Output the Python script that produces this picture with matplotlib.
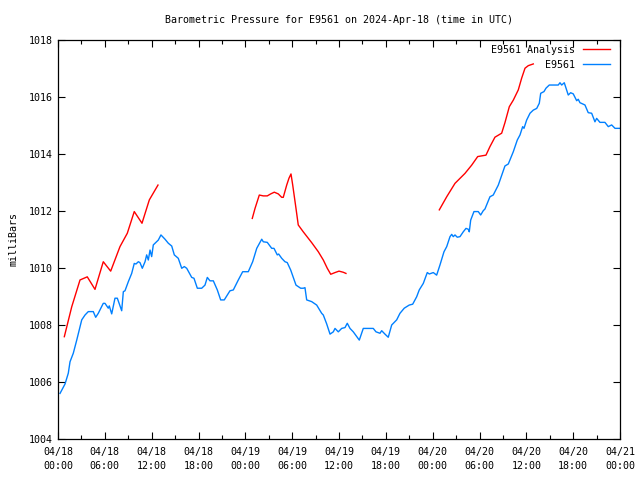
import numpy as np
import matplotlib
matplotlib.use('Agg')
import matplotlib.pyplot as plt
from matplotlib.ticker import MultipleLocator, FixedLocator

# Data: hours since 2024-04-18 00:00 UTC, pressure in mb
#################################################################################################################

obs_hours = [0.26, 0.90, 1.32, 1.54, 1.96, 2.40, 3.04, 3.46, 3.88, 4.52, 4.83, 5.16, 5.80, 6.02, 6.44, 6.57,
             6.88, 7.30, 7.60, 8.16, 8.37, 8.58, 9.01, 9.44, 9.77, 9.99, 10.29, 10.50, 10.80, 11.15, 11.36,
             11.57, 11.79, 12.00, 12.21, 12.43, 12.85, 13.19, 13.71, 14.13, 14.57, 14.90, 15.41, 15.85, 16.18,
             16.49, 17.13, 17.42, 17.85, 18.41, 18.83, 19.13, 19.47, 19.90, 20.41, 20.84, 21.30, 22.03, 22.46,
             23.10, 23.66, 24.38, 24.94, 25.46, 26.10, 26.30, 26.81, 27.38, 27.67, 28.09, 28.27, 28.66, 29.08,
             29.37, 29.81, 30.49, 31.09, 31.42, 31.64, 31.86, 32.50, 33.14, 33.78, 33.99, 34.42, 34.85, 35.27,
             35.49, 35.91, 36.34, 36.77, 37.06, 37.41, 37.83, 38.60, 39.11, 40.39, 40.74, 41.25, 41.47, 41.89,
             42.31, 42.75, 43.39, 43.81, 44.36, 45.00, 45.44, 45.95, 46.28, 46.80, 47.31, 47.57, 48.08, 48.51,
             48.94, 49.45, 49.80, 50.22, 50.44, 50.64, 50.86, 51.15, 51.50, 51.92, 52.27, 52.56, 52.69, 52.87,
             53.29, 53.84, 54.15, 54.48, 54.70, 55.34, 55.76, 56.41, 57.26, 57.69, 58.33, 58.84, 59.19, 59.53,
             59.70, 60.04, 60.47, 60.89, 61.33, 61.66, 61.84, 62.26, 62.52, 62.94, 64.09, 64.31, 64.53, 64.86,
             65.08, 65.37, 65.68, 66.01, 66.45, 66.65, 66.87, 67.51, 67.93, 68.37, 68.79, 69.01, 69.43, 70.07,
             70.50, 70.93, 71.36, 72.00]
obs_mb = [1005.60, 1005.93, 1006.31, 1006.71, 1007.01, 1007.47, 1008.18, 1008.35, 1008.47, 1008.47, 1008.27,
          1008.41, 1008.76, 1008.76, 1008.59, 1008.67, 1008.39, 1008.94, 1008.94, 1008.50, 1009.17, 1009.20,
          1009.52, 1009.81, 1010.16, 1010.14, 1010.22, 1010.19, 1009.99, 1010.22, 1010.46, 1010.28, 1010.63,
          1010.40, 1010.81, 1010.87, 1010.98, 1011.16, 1011.01, 1010.87, 1010.77, 1010.46, 1010.34, 1009.99,
          1010.05, 1009.99, 1009.67, 1009.64, 1009.29, 1009.29, 1009.40, 1009.67, 1009.55, 1009.55, 1009.23,
          1008.88, 1008.88, 1009.20, 1009.23, 1009.58, 1009.87, 1009.87, 1010.22, 1010.69, 1011.01, 1010.92,
          1010.90, 1010.69, 1010.69, 1010.46, 1010.49, 1010.34, 1010.22, 1010.19, 1009.93, 1009.40, 1009.29,
          1009.29, 1009.31, 1008.88, 1008.82, 1008.70, 1008.41, 1008.35, 1008.04, 1007.68, 1007.76, 1007.88,
          1007.76, 1007.88, 1007.91, 1008.06, 1007.88, 1007.76, 1007.47, 1007.88, 1007.88, 1007.76, 1007.71,
          1007.80, 1007.68, 1007.57, 1008.00, 1008.18, 1008.41, 1008.59, 1008.70, 1008.73, 1008.99, 1009.23,
          1009.46, 1009.84, 1009.79, 1009.84, 1009.75, 1010.11, 1010.57, 1010.75, 1011.10, 1011.18, 1011.10,
          1011.16, 1011.08, 1011.10, 1011.27, 1011.39, 1011.36, 1011.27, 1011.68, 1011.98, 1011.98, 1011.86,
          1012.01, 1012.07, 1012.50, 1012.56, 1012.91, 1013.58, 1013.65, 1014.08, 1014.49, 1014.67, 1014.96,
          1014.90, 1015.19, 1015.43, 1015.54, 1015.60, 1015.78, 1016.13, 1016.19, 1016.31, 1016.42, 1016.42,
          1016.50, 1016.42, 1016.50, 1016.31, 1016.07, 1016.15, 1016.11, 1015.87, 1015.92, 1015.80, 1015.72,
          1015.45, 1015.43, 1015.13, 1015.25, 1015.11, 1015.11, 1014.96, 1015.02, 1014.90, 1014.90]

# Analysis has three pieces with gaps between them
ana_hours_1 = [0.81, 1.76, 2.82, 3.75, 4.74, 5.80, 6.75, 7.94, 8.88, 9.77, 10.76, 11.70, 12.81]
ana_mb_1 = [1007.59, 1008.64, 1009.58, 1009.69, 1009.25, 1010.22, 1009.89, 1010.75, 1011.22, 1011.98,
            1011.57, 1012.39, 1012.91]
ana_hours_2 = [24.89, 25.24, 25.79, 26.30, 26.81, 27.25, 27.71, 28.22, 28.66, 28.86, 29.30, 29.59, 29.85,
               30.07, 30.49, 30.78, 31.42, 32.50, 33.35, 33.99, 34.50, 34.94, 35.49, 36.00, 36.55, 36.89]
ana_mb_2 = [1011.74, 1012.09, 1012.56, 1012.53, 1012.53, 1012.60, 1012.66, 1012.60, 1012.48, 1012.48,
            1012.91, 1013.15, 1013.30, 1012.91, 1012.09, 1011.51, 1011.27, 1010.89, 1010.57, 1010.28,
            1009.99, 1009.78, 1009.84, 1009.89, 1009.85, 1009.81]
ana_hours_3 = [48.85, 49.80, 50.86, 52.14, 53.00, 53.77, 54.83, 55.34, 55.98, 56.84, 57.26, 57.82, 58.33,
               58.97, 59.40, 59.83, 60.25, 60.89]
ana_mb_3 = [1012.04, 1012.50, 1012.97, 1013.32, 1013.61, 1013.91, 1013.96, 1014.26, 1014.59, 1014.73,
            1015.10, 1015.66, 1015.89, 1016.25, 1016.66, 1017.01, 1017.10, 1017.16]

xtick_labels = ['04/18\n00:00', '04/18\n06:00', '04/18\n12:00', '04/18\n18:00',
                '04/19\n00:00', '04/19\n06:00', '04/19\n12:00', '04/19\n18:00',
                '04/20\n00:00', '04/20\n06:00', '04/20\n12:00', '04/20\n18:00',
                '04/21\n00:00']

# Plot
#################################################################################################################

plt.rcParams['font.family'] = 'DejaVu Sans Mono'
fs = 7.2

fig = plt.figure(figsize=(6.4, 4.8), dpi=100)
ax = fig.add_axes([58/640, 41/480, 562/640, 399/480])

red = '#ff0000'
blue = '#0080ff'
ax.plot(ana_hours_1, ana_mb_1, color=red, lw=1.0, label='E9561 Analysis')
ax.plot(ana_hours_2, ana_mb_2, color=red, lw=1.0)
ax.plot(ana_hours_3, ana_mb_3, color=red, lw=1.0)
ax.plot(obs_hours, obs_mb, color=blue, lw=1.0, label='E9561')

ax.set_xlim(0, 72)
ax.set_ylim(1004, 1018)
ax.xaxis.set_major_locator(FixedLocator(np.arange(0, 73, 6)))
ax.xaxis.set_minor_locator(MultipleLocator(3))
ax.set_xticklabels(xtick_labels, linespacing=1.45)
ax.yaxis.set_major_locator(MultipleLocator(2))
ax.tick_params(which='both', direction='in', top=True, right=True, labelsize=fs, width=0.8)
ax.tick_params(which='major', length=5)
ax.tick_params(which='minor', length=3)
ax.tick_params(axis='x', pad=6)
ax.tick_params(axis='y', pad=4)
for s in ax.spines.values():
    s.set_linewidth(0.9)

ax.set_ylabel('milliBars', fontsize=fs, labelpad=7)
ax.set_title('Barometric Pressure for E9561 on 2024-Apr-18 (time in UTC)', fontsize=fs, pad=12)

leg = ax.legend(loc='upper right', bbox_to_anchor=(1 - 10/562, 1 - 5/399), frameon=False,
                markerfirst=False, fontsize=fs, handlelength=2.7, handletextpad=0.8,
                labelspacing=0.5, borderpad=0, borderaxespad=0)

fig.savefig('out.png', dpi=100)
